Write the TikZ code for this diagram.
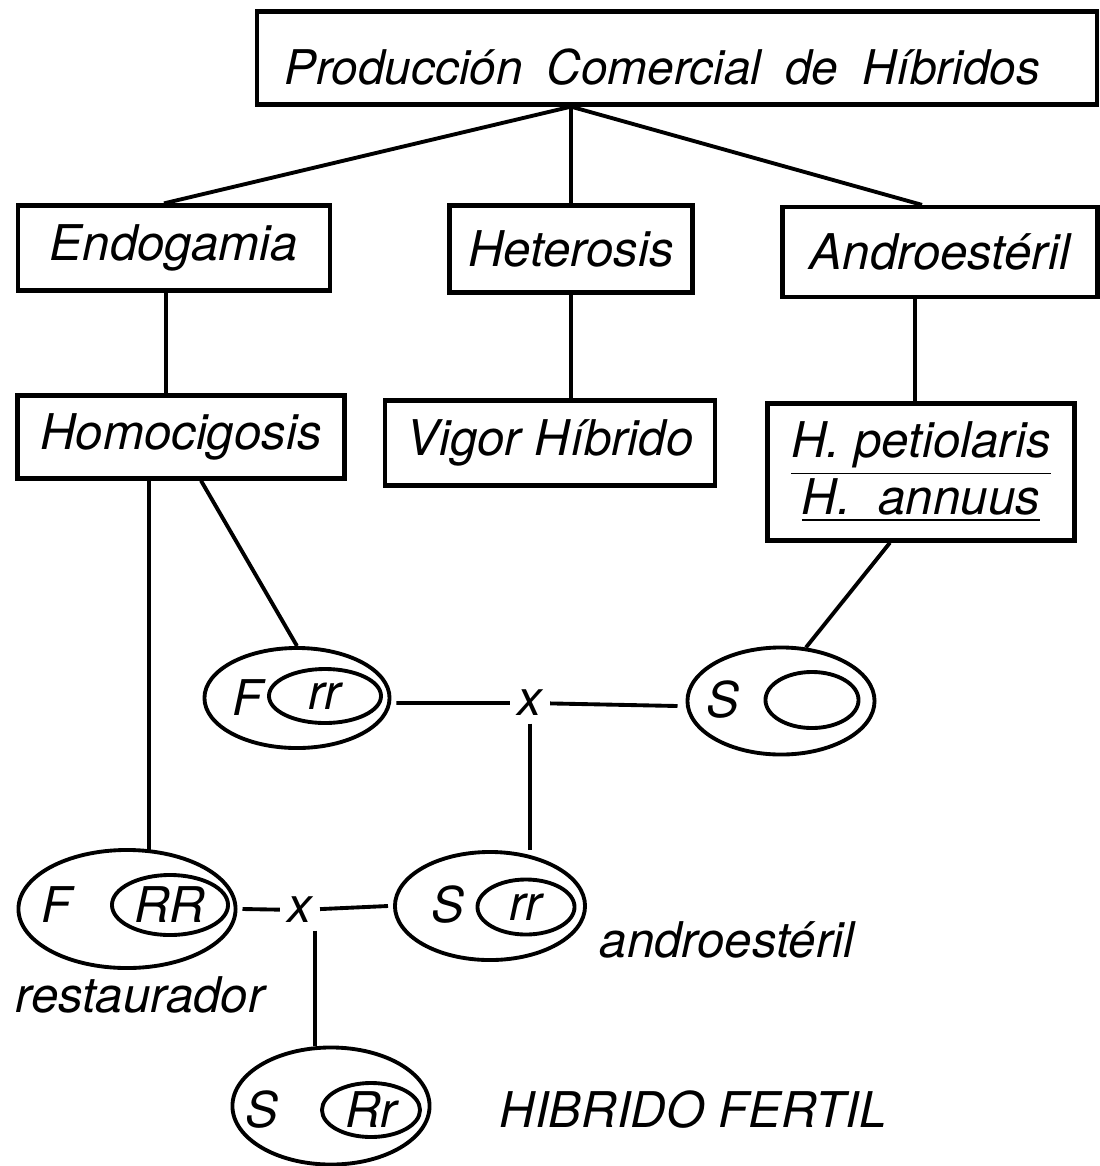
\documentclass[tikz,border=0pt]{standalone}
\usepackage{fontspec}
\setmainfont{TeX Gyre Heros}
\usepackage{tikz}
\usetikzlibrary{shapes.geometric}
\tikzset{
  box/.style={draw,rectangle,line width=1.2pt,inner sep=0pt},
  cell/.style={draw,ellipse,line width=1.1pt,inner sep=0pt},
  gene/.style={draw,ellipse,line width=1.1pt,inner sep=0pt},
  link/.style={line width=1.1pt}
}

\begin{document}
\begin{tikzpicture}[x=0.01cm,y=-0.01cm,font=\fontsize{14}{17}\selectfont\itshape]
  \useasboundingbox (0,0) rectangle (1099,1166);
  % boxes
  \node[box,minimum width=8.39cm,minimum height=0.93cm,text width=7.85cm,align=flush left,
    text height=0.62cm,text depth=0.1cm,font=\fontsize{13.6}{16}\selectfont\itshape] (title) at (677,58) {Producción\hspace{0.5em}Comercial\hspace{0.5em}de\hspace{0.5em}Híbridos};
  \node[box,minimum width=3.12cm,minimum height=0.85cm] (endo) at (174,248) {Endogamia};
  \node[box,minimum width=2.43cm,minimum height=0.87cm] (hetero) at (571,249) {Heterosis};
  \node[box,minimum width=3.15cm,minimum height=0.90cm] (andro) at (940,252) {Androestéril};
  \node[box,minimum width=3.27cm,minimum height=0.83cm] (homo) at (181,437) {Homocigosis};
  \node[box,minimum width=3.30cm,minimum height=0.85cm] (vigor) at (550,443) {Vigor Híbrido};
  \node[box,minimum width=3.07cm,minimum height=1.37cm,align=center] (petio) at (921,472) {\underline{H. petiolaris}\\[-1pt]\underline{H.\ \ annuus}};
  \draw[link] (title.south -| hetero.north) -- ([xshift=-0.1cm]endo.north);
  \draw[link] (title.south -| hetero.north) -- (hetero.north);
  \draw[link] (title.south -| hetero.north) -- ([xshift=-0.18cm]andro.north);
  \draw[link] ([xshift=-0.08cm]endo.south) -- ([xshift=-0.08cm]endo.south |- homo.north);
  \draw[link] (hetero.south) -- (hetero.south |- vigor.north);
  \draw[link] ([xshift=-0.06cm]petio.north |- andro.south) -- ([xshift=-0.06cm]petio.north);
  % first cross
  \node[cell,minimum width=1.85cm,minimum height=1.00cm] (frr) at (297,698) {};
  \node (frrF) at (248,698) {F};
  \node[gene,minimum width=1.12cm,minimum height=0.54cm] (frrG) at (325,696) {rr};
  \node[cell,minimum width=1.87cm,minimum height=1.07cm] (sxx) at (781,701) {};
  \node (sxxS) at (723,700) {S};
  \node[gene,minimum width=0.93cm,minimum height=0.56cm] (sxxG) at (812,700) {};
  \node[inner sep=2pt] (crossA) at (530,703) {x};
  \draw[link] ([xshift=-0.32cm]homo.south) -- ([xshift=-0.32cm]homo.south |- 0,852);
  \draw[link] ([xshift=0.2cm]homo.south) -- (frr.north);
  \draw[link] ([xshift=-0.31cm]petio.south) -- (sxx.65);
  \draw[link] ([xshift=0.05cm,yshift=-0.05cm]frr.east) -- (crossA);
  \draw[link] (crossA) -- ([xshift=-0.08cm,yshift=-0.05cm]sxx.west);
  % second cross
  \node[cell,minimum width=2.17cm,minimum height=1.18cm] (fRR) at (127,909) {};
  \node (fRRF) at (57,905) {F};
  \node[gene,minimum width=1.16cm,minimum height=0.60cm] (fRRG) at (170,905) {RR};
  \node[cell,minimum width=1.90cm,minimum height=1.08cm] (srr) at (490,906) {};
  \node (srrS) at (448,905) {S};
  \node[gene,minimum width=0.97cm,minimum height=0.55cm] (srrG) at (526,907) {rr};
  \node[inner sep=2pt] (crossB) at (300,910) {x};
  \draw[link] (crossA) -- (crossA |- srr.north);
  \draw[link] ([xshift=0.05cm]fRR.east) -- (crossB);
  \draw[link] (crossB) -- ([xshift=-0.05cm]srr.west);
  \node (rest) at (140,995) {restaurador};
  \node (andlab) at (727,940) {androestéril};
  % hybrid
  \node[cell,minimum width=1.97cm,minimum height=1.17cm] (sRr) at (331,1106) {};
  \node (sRrS) at (262,1110) {S};
  \node[gene,minimum width=0.98cm,minimum height=0.54cm] (sRrG) at (371,1110) {Rr};
  \draw[link] ([xshift=0.15cm]crossB.south) -- ([xshift=0.15cm]crossB.south |- sRr.north);
  \node (hib) at (693,1110) {HIBRIDO FERTIL};
\end{tikzpicture}
\end{document}
